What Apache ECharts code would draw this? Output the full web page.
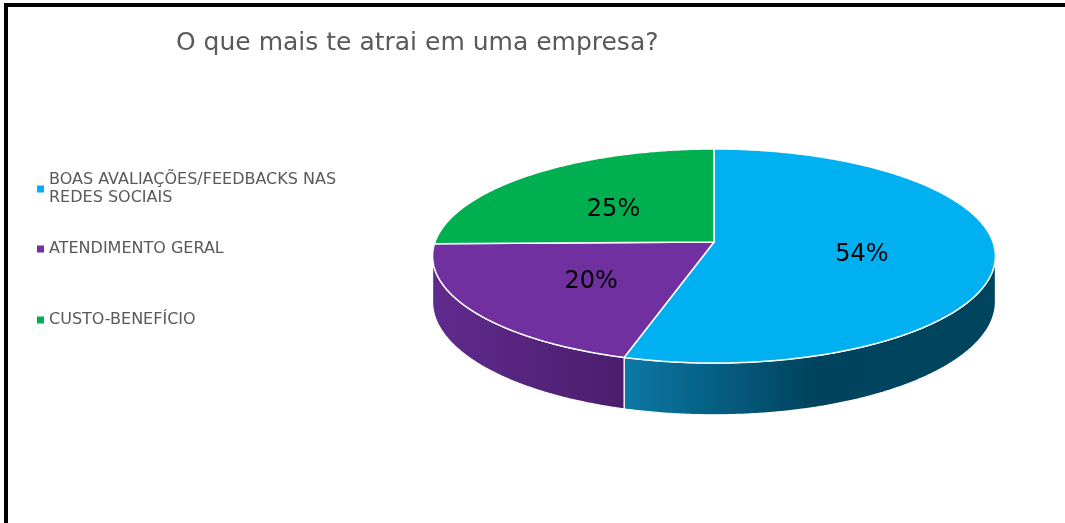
<!DOCTYPE html>
<html>
<head>
<meta charset="utf-8">
<script src="https://cdn.jsdelivr.net/npm/echarts@6/dist/echarts.min.js"></script>
<style>
html,body{margin:0;padding:0;background:#fff;}
#c{width:1065px;height:523px;}
</style>
</head>
<body>
<div id="c"></div>
<script>
// ---- data ----
const title = 'O que mais te atrai em uma empresa?';
const categories = ['BOAS AVALIAÇÕES/FEEDBACKS NAS REDES SOCIAIS', 'ATENDIMENTO GERAL', 'CUSTO-BENEFÍCIO'];
const values = [54, 20, 25];
const colors = ['#00B0F0', '#7030A0', '#00B050'];

// ---- 3D pie projection (layout) ----
const P = {cx: 714, cy: 242, A: 279, B: 105.2, k: 0.131, D: 45};
function proj(theta, r, drop) {
  const u = r * Math.sin(theta), v = -r * Math.cos(theta);
  const w = 1 - P.k * v;
  return [P.cx + P.A * u / w, P.cy + P.B * v / w + (drop || 0) / w];
}
const total = values.reduce((a, b) => a + b, 0);
const starts = [], ends = [];
let acc = 0;
values.forEach(v => { starts.push(acc / total * 2 * Math.PI); acc += v; ends.push(acc / total * 2 * Math.PI); });
const deg = Math.PI / 180;
const FRONT = [97.5 * deg, 262.5 * deg];

function rim(a0, a1, drop) {
  const pts = [];
  const n = Math.max(2, Math.ceil((a1 - a0) / (0.5 * deg)));
  for (let j = 0; j <= n; j++) pts.push(proj(a0 + (a1 - a0) * j / n, 1, drop));
  return pts;
}

const wallGrad = [
  new echarts.graphic.LinearGradient(628, 0, 996, 0, [{offset: 0, color: '#0B78A4'}, {offset: 0.5, color: '#00435E'}, {offset: 1, color: '#00455F'}], true),
  new echarts.graphic.LinearGradient(433, 0, 628, 0, [{offset: 0, color: '#5F2B8E'}, {offset: 1, color: '#4B1D6C'}], true),
  new echarts.graphic.LinearGradient(433, 0, 996, 0, [{offset: 0, color: '#00803A'}, {offset: 1, color: '#005A28'}], true)
];

const series = [];
// walls
series.push({
  type: 'custom', name: 'walls', coordinateSystem: 'none', z: 1, silent: true,
  data: values.map((v, i) => [v, i]),
  renderItem: function (params, api) {
    const i = params.dataIndex;
    const a0 = Math.max(starts[i], FRONT[0]), a1 = Math.min(ends[i], FRONT[1]);
    if (a1 <= a0) return {type: 'group', children: []};
    const top = rim(a0, a1, 0), bot = rim(a0, a1, P.D).reverse();
    return {
      type: 'polygon',
      shape: {points: top.concat(bot)},
      style: {fill: wallGrad[i], stroke: '#ffffff', lineWidth: 1.2}
    };
  }
});
// top faces, one series per category
categories.forEach((name, i) => {
  series.push({
    type: 'custom', name: name, coordinateSystem: 'none', z: 2,
    itemStyle: {color: colors[i]},
    data: [[values[i]]],
    renderItem: function (params, api) {
      const v = api.value(0);
      const pts = [[P.cx, P.cy]].concat(rim(starts[i], ends[i], 0));
      const mid = (starts[i] + ends[i]) / 2;
      const lp = proj(mid, 0.53, 0);
      return {
        type: 'group',
        children: [
          {type: 'polygon', shape: {points: pts}, style: {fill: colors[i], stroke: '#ffffff', lineWidth: 1.5}},
          {type: 'text', z2: 10, style: {text: v + '%', x: lp[0], y: lp[1] + 5, align: 'center', verticalAlign: 'middle',
            fill: '#000000', font: '24px "DejaVu Sans"'}}
        ]
      };
    }
  });
});

const legendTops = [171, 240, 311];
const legends = categories.map((name, i) => ({
  data: [name], orient: 'vertical', left: 37, top: legendTops[i], padding: 0,
  icon: 'rect', itemWidth: 7, itemHeight: 7, selectedMode: false,
  textStyle: {color: '#595959', fontSize: 16, fontFamily: 'DejaVu Sans', lineHeight: 18, width: 305, overflow: 'break'}
}));

const chart = echarts.init(document.getElementById('c'), null, {renderer: 'canvas'});
chart.setOption({
  animation: false,
  backgroundColor: '#ffffff',
  title: {text: title, left: 176, top: 31, padding: 0,
    textStyle: {color: '#595959', fontSize: 25, fontWeight: 'normal', fontFamily: 'DejaVu Sans'}},
  legend: legends,
  graphic: [
    {type: 'rect', shape: {x: 4, y: 3, width: 1061, height: 4}, style: {fill: '#000'}},
    {type: 'rect', shape: {x: 4, y: 3, width: 4, height: 520}, style: {fill: '#000'}}
  ],
  series: series
});
</script>
</body>
</html>
